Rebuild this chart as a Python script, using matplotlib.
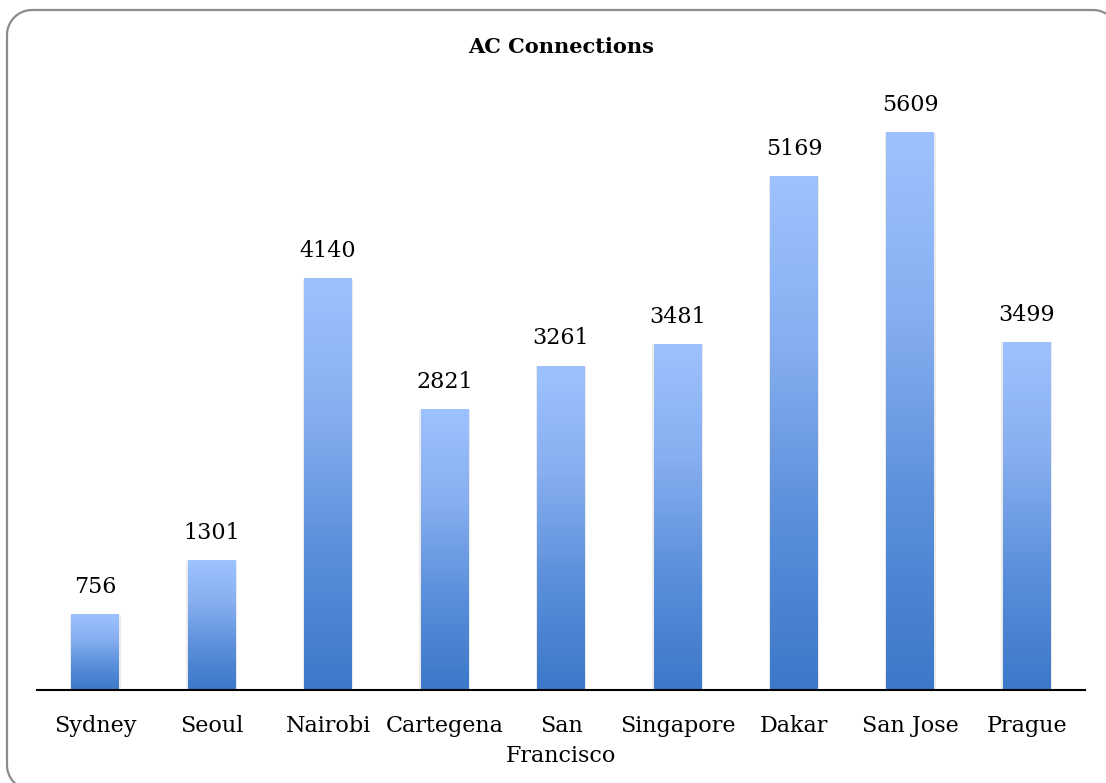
import numpy as np
import matplotlib
matplotlib.use("Agg")
import matplotlib.pyplot as plt
from matplotlib.patches import PathPatch
from matplotlib.path import Path
from matplotlib.colors import LinearSegmentedColormap

categories = ["Sydney", "Seoul", "Nairobi", "Cartegena", "San\nFrancisco",
              "Singapore", "Dakar", "San Jose", "Prague"]
values = [756, 1301, 4140, 2821, 3261, 3481, 5169, 5609, 3499]
title = "AC Connections"

W, H = 1106, 783
fig = plt.figure(figsize=(W / 100, H / 100), dpi=100)
fig.patch.set_facecolor("white")


def rounded_rect(x0, y0, x1, y1, r, n=20):
    verts = []
    def arc(cx, cy, a0, a1):
        for t in np.linspace(a0, a1, n):
            verts.append((cx + r * np.cos(t), cy + r * np.sin(t)))
    arc(x1 - r, y1 - r, 0, np.pi / 2)
    arc(x0 + r, y1 - r, np.pi / 2, np.pi)
    arc(x0 + r, y0 + r, np.pi, 1.5 * np.pi)
    arc(x1 - r, y0 + r, 1.5 * np.pi, 2 * np.pi)
    verts.append(verts[0])
    return Path(verts)


border = PathPatch(rounded_rect(0.07, -0.07, 11.18, 7.73, 0.25),
                   transform=fig.dpi_scale_trans, facecolor="none",
                   edgecolor="#8c8c8c", linewidth=1.6, zorder=-1)
fig.patches.append(border)

ax = fig.add_axes([37 / W, (H - 690) / H, 1048 / W, 596 / H])
ax.set_facecolor("none")
x = np.arange(len(categories))
bars = ax.bar(x, values, width=0.41, color="none", edgecolor="none", zorder=2)

cmap = LinearSegmentedColormap.from_list(
    "grad", ["#3C78C9", "#5B8FDA", "#86AEF0", "#9DC2FF"])
grad = np.linspace(0, 1, 256).reshape(-1, 1)
for b, v in zip(bars, values):
    x0, y0 = b.get_x(), b.get_y()
    w, h = b.get_width(), b.get_height()
    ax.bar(x0 + w / 2, h, width=w * 1.06, color="#d8d8d8", alpha=0.5,
           zorder=1, edgecolor="none")
    ax.imshow(grad, cmap=cmap, origin="lower", aspect="auto",
              extent=(x0, x0 + w, y0, y0 + h), zorder=3, interpolation="bilinear")
    ax.annotate(f"{v}", (x0 + w / 2, y0 + h), xytext=(0, 12),
                textcoords="offset points", ha="center", va="bottom",
                fontsize=16, family="DejaVu Serif", color="black")

ax.set_xlim(-0.5, len(categories) - 0.5)
ax.set_ylim(0, 6000)
ax.set_xticks(x)
ax.set_xticklabels(categories, fontsize=16, family="DejaVu Serif",
                   linespacing=1.45, va="top")
ax.tick_params(axis="x", length=0, pad=18)
ax.set_yticks([])
for s in ["top", "right", "left"]:
    ax.spines[s].set_visible(False)
ax.spines["bottom"].set_color("black")
ax.spines["bottom"].set_linewidth(1.5)
ax.spines["bottom"].set_zorder(5)

fig.text(561 / W, 1 - 47 / H, title, ha="center", va="center",
         fontsize=15, fontweight="bold", family="DejaVu Serif")

fig.savefig("out.png", dpi=100)
